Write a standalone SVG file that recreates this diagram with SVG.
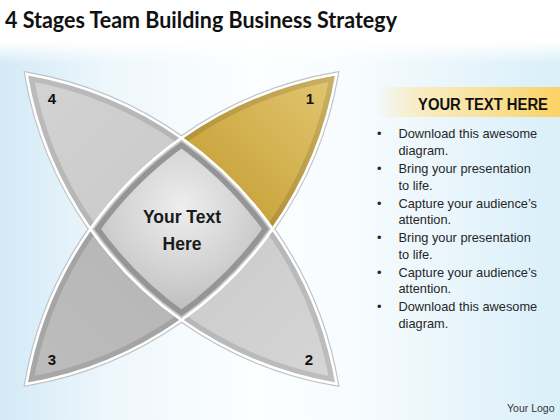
<svg xmlns="http://www.w3.org/2000/svg" width="560" height="420" viewBox="0 0 560 420">
<style>
.outline{fill:none;stroke:#bfc3c6;stroke-width:5}
.white{fill:none;stroke:#ffffff;stroke-width:2.6}
.band{fill:none;stroke:#000;stroke-opacity:0.11;stroke-width:13}
.num{font-family:"Liberation Sans",Arial,sans-serif;font-weight:bold;font-size:15px;fill:#111;text-anchor:middle}
.ctr{font-family:"Liberation Sans",Arial,sans-serif;font-weight:bold;font-size:17.5px;fill:#1a1a1a;text-anchor:middle}
.bul{font-family:"Liberation Sans",Arial,sans-serif;font-size:12.8px;fill:#262626}
</style>
<defs>
<linearGradient id="bgH" x1="0" y1="0" x2="1" y2="0">
<stop offset="0" stop-color="#d3eaf7"/>
<stop offset="0.2" stop-color="#eef7fc"/>
<stop offset="0.45" stop-color="#fcfeff"/>
<stop offset="0.62" stop-color="#f8fcfe"/>
<stop offset="1" stop-color="#d9eff9"/>
</linearGradient>
<linearGradient id="bgTop" x1="0" y1="0" x2="0" y2="1">
<stop offset="0" stop-color="#fff" stop-opacity="1"/>
<stop offset="1" stop-color="#fff" stop-opacity="0"/>
</linearGradient>
<linearGradient id="g4" x1="0" y1="0" x2="1" y2="1">
<stop offset="0" stop-color="#d3d3d3"/>
<stop offset="1" stop-color="#c9c9c9"/>
</linearGradient>
<linearGradient id="g1" x1="0" y1="1" x2="1" y2="0">
<stop offset="0" stop-color="#c1982a"/>
<stop offset="0.5" stop-color="#d2b04e"/>
<stop offset="1" stop-color="#e2c773"/>
</linearGradient>
<linearGradient id="g3" x1="1" y1="0" x2="0" y2="1">
<stop offset="0" stop-color="#b5b5b5"/>
<stop offset="1" stop-color="#bdbdbd"/>
</linearGradient>
<linearGradient id="g2" x1="0" y1="0" x2="1" y2="1">
<stop offset="0" stop-color="#cacaca"/>
<stop offset="1" stop-color="#d6d6d6"/>
</linearGradient>
<radialGradient id="gc" cx="0.5" cy="0.38" r="0.6">
<stop offset="0" stop-color="#eeeeee"/>
<stop offset="0.6" stop-color="#d2d2d2"/>
<stop offset="1" stop-color="#bcbcbc"/>
</radialGradient>
<linearGradient id="gHead" x1="0" y1="0" x2="1" y2="0">
<stop offset="0" stop-color="#fde29a" stop-opacity="0"/>
<stop offset="0.25" stop-color="#fde7a6" stop-opacity="0.7"/>
<stop offset="1" stop-color="#fbd264"/>
</linearGradient>
<path id="p1" d="M336.55,73.95 A378.9,378.9 0 0 0 181.5,137.95 A378.9,378.9 0 0 1 272.55,229 A378.9,378.9 0 0 0 336.55,73.95 Z"/>
<path id="p4" d="M26.45,73.95 A378.9,378.9 0 0 1 181.5,137.95 A378.9,378.9 0 0 0 90.45,229 A378.9,378.9 0 0 1 26.45,73.95 Z"/>
<path id="p2" d="M336.55,384.05 A378.9,378.9 0 0 0 272.55,229 A378.9,378.9 0 0 1 181.5,320.05 A378.9,378.9 0 0 0 336.55,384.05 Z"/>
<path id="p3" d="M26.45,384.05 A378.9,378.9 0 0 0 181.5,320.05 A378.9,378.9 0 0 1 90.45,229 A378.9,378.9 0 0 0 26.45,384.05 Z"/>
<path id="pc" d="M181.5,137.95 A378.9,378.9 0 0 1 272.55,229 A378.9,378.9 0 0 1 181.5,320.05 A378.9,378.9 0 0 1 90.45,229 A378.9,378.9 0 0 1 181.5,137.95 Z"/>
<clipPath id="c1"><use href="#p1"/></clipPath>
<clipPath id="c2"><use href="#p2"/></clipPath>
<clipPath id="c3"><use href="#p3"/></clipPath>
<clipPath id="c4"><use href="#p4"/></clipPath>
<clipPath id="cc"><use href="#pc"/></clipPath>
</defs>

<rect width="560" height="420" fill="#ffffff"/>
<rect x="0" y="42" width="560" height="378" fill="url(#bgH)"/>
<rect x="0" y="42" width="560" height="22" fill="url(#bgTop)"/>

<text x="5" y="28" font-family="Lato,'Liberation Sans',sans-serif" font-weight="bold" font-size="22" fill="#111" textLength="392" lengthAdjust="spacingAndGlyphs">4 Stages Team Building Business Strategy</text>

<g id="outlines">
<use href="#p1" class="outline"/>
<use href="#p2" class="outline"/>
<use href="#p3" class="outline"/>
<use href="#p4" class="outline"/>
</g>

<g id="stage4">
<use href="#p4" fill="url(#g4)"/>
<path clip-path="url(#c4)" class="band" d="M181.5,137.95 A378.9,378.9 0 0 0 26.45,73.95 A378.9,378.9 0 0 0 90.45,229"/>
<use href="#p4" class="white"/>
<text class="num" x="52" y="103.5">4</text>
</g>

<g id="stage1">
<use href="#p1" fill="url(#g1)"/>
<path clip-path="url(#c1)" class="band" d="M181.5,137.95 A378.9,378.9 0 0 1 336.55,73.95 A378.9,378.9 0 0 1 272.55,229"/>
<use href="#p1" class="white"/>
<text class="num" x="310" y="103.5">1</text>
</g>

<g id="stage3">
<use href="#p3" fill="url(#g3)"/>
<path clip-path="url(#c3)" class="band" d="M181.5,320.05 A378.9,378.9 0 0 1 26.45,384.05 A378.9,378.9 0 0 1 90.45,229"/>
<use href="#p3" class="white"/>
<text class="num" x="52" y="365">3</text>
</g>

<g id="stage2">
<use href="#p2" fill="url(#g2)"/>
<path clip-path="url(#c2)" class="band" d="M272.55,229 A378.9,378.9 0 0 1 336.55,384.05 A378.9,378.9 0 0 1 181.5,320.05"/>
<use href="#p2" class="white"/>
<text class="num" x="309" y="365">2</text>
</g>

<g id="center">
<use href="#pc" fill="url(#gc)"/>
<use href="#pc" clip-path="url(#cc)" fill="none" stroke="#959595" stroke-width="17"/>
<use href="#pc" clip-path="url(#cc)" fill="none" stroke="#c7c7c7" stroke-width="6"/>
<use href="#pc" class="white"/>
<text class="ctr" x="182" y="223">Your Text</text>
<text class="ctr" x="182" y="250">Here</text>
</g>

<g id="connectors"/>

<g id="panel">
<rect x="376" y="87" width="184" height="30" fill="url(#gHead)"/>
<text x="418" y="110" font-family="'Liberation Sans',Arial,sans-serif" font-weight="bold" font-size="16" fill="#111" textLength="130" lengthAdjust="spacingAndGlyphs">YOUR TEXT HERE</text>
<g class="bul">
<text x="377" y="138">•</text><text x="398.5" y="138">Download this awesome</text>
<text x="398.5" y="154.5">diagram.</text>
<text x="377" y="173">•</text><text x="398.5" y="173">Bring your presentation</text>
<text x="398.5" y="189.5">to life.</text>
<text x="377" y="207.5">•</text><text x="398.5" y="207.5">Capture your audience’s</text>
<text x="398.5" y="224">attention.</text>
<text x="377" y="242">•</text><text x="398.5" y="242">Bring your presentation</text>
<text x="398.5" y="258.5">to life.</text>
<text x="377" y="276.5">•</text><text x="398.5" y="276.5">Capture your audience’s</text>
<text x="398.5" y="293">attention.</text>
<text x="377" y="311">•</text><text x="398.5" y="311">Download this awesome</text>
<text x="398.5" y="327.5">diagram.</text>
</g>
</g>

<text x="507" y="412" font-family="'Liberation Sans',Arial,sans-serif" font-size="10.5" fill="#333">Your Logo</text>
</svg>
